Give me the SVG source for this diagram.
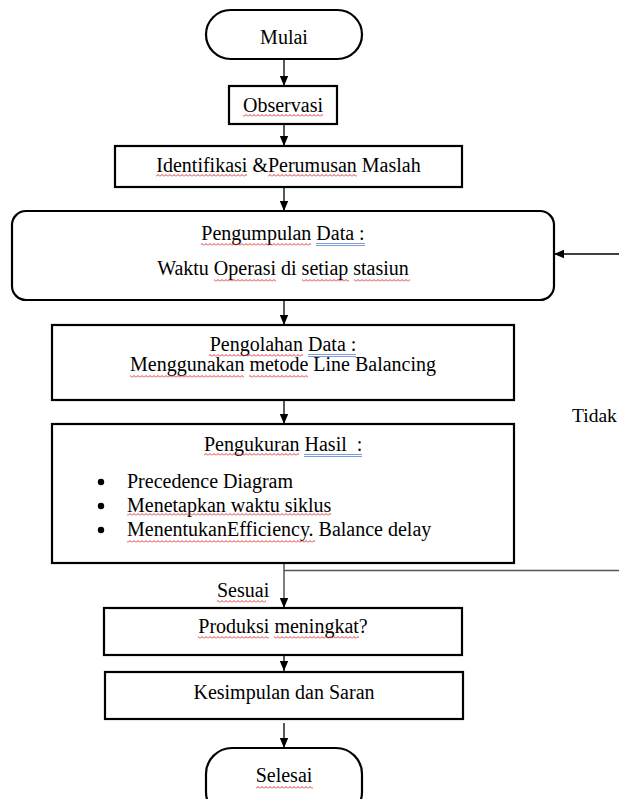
<svg xmlns="http://www.w3.org/2000/svg" width="619" height="799" viewBox="0 0 619 799">
<style>
.box{fill:#fff;stroke:#000;stroke-width:2.2}
.t{font-family:"Liberation Serif","Times New Roman",serif;font-size:20px;fill:#000}
.c{text-anchor:middle}
.ln{fill:none;stroke:#000;stroke-width:1.3}
.fb{fill:none;stroke:#555;stroke-width:1.5}
.bl{stroke:#6f8fd6;stroke-width:0.9}
</style>
<defs>
<marker id="ah" markerUnits="userSpaceOnUse" markerWidth="10" markerHeight="10" viewBox="0 0 10 10" refX="10" refY="5" orient="auto">
<path d="M0,0.8 L10,5 L0,9.2 Z" fill="#000"/>
</marker>
<pattern id="wave" patternUnits="userSpaceOnUse" width="4" height="3">
<polyline points="0,2.5 2,0.5 4,2.5" fill="none" stroke="#e02020" stroke-width="0.9"/>
</pattern>
</defs>
<rect width="619" height="799" fill="#fff"/>

<g id="connectors">
<line class="ln" x1="284" y1="59" x2="284" y2="86" marker-end="url(#ah)"/>
<line class="ln" x1="284" y1="124" x2="284" y2="146" marker-end="url(#ah)"/>
<line class="ln" x1="284" y1="187" x2="284" y2="211" marker-end="url(#ah)"/>
<line class="ln" x1="284" y1="300" x2="284" y2="325" marker-end="url(#ah)"/>
<line class="ln" x1="284" y1="400" x2="284" y2="424" marker-end="url(#ah)"/>
<line class="fb" x1="284" y1="563" x2="284" y2="608" marker-end="url(#ah)"/>
<line class="fb" x1="284" y1="570.5" x2="619" y2="570.5"/>
<line class="ln" x1="619" y1="254" x2="554" y2="254" marker-end="url(#ah)"/>
<line class="ln" x1="284" y1="655" x2="284" y2="671" marker-end="url(#ah)"/>
<line class="ln" x1="284" y1="723" x2="284" y2="748" marker-end="url(#ah)"/>
<text class="t" x="572" y="422" style="font-size:19.5px">Tidak</text>
<text class="t" x="217" y="597">Sesuai</text>
<rect x="217" y="600" width="49" height="3" fill="url(#wave)"/>
</g>

<g id="mulai">
<rect class="box" x="206" y="10" width="156" height="49" rx="24.5"/>
<text class="t c" x="284" y="44">Mulai</text>
</g>

<g id="observasi">
<rect class="box" x="229" y="86" width="108" height="38"/>
<text class="t c" x="283" y="112">Observasi</text>
<rect x="243" y="114" width="80" height="3" fill="url(#wave)"/>
</g>

<g id="identifikasi">
<rect class="box" x="115" y="146" width="347" height="41"/>
<text class="t c" x="288.5" y="172">Identifikasi &amp;Perumusan Maslah</text>
<rect x="156" y="174" width="91" height="3" fill="url(#wave)"/>
<rect x="268" y="174" width="89" height="3" fill="url(#wave)"/>
</g>

<g id="pengumpulan">
<rect class="box" x="12" y="211" width="542" height="89" rx="14"/>
<text class="t c" x="283" y="240">Pengumpulan Data :</text>
<rect x="201" y="243" width="110" height="3" fill="url(#wave)"/>
<line class="bl" x1="316" y1="243.5" x2="365" y2="243.5"/>
<line class="bl" x1="316" y1="245.5" x2="365" y2="245.5"/>
<text class="t c" x="283" y="275">Waktu Operasi di setiap stasiun</text>
<rect x="214" y="279" width="62" height="3" fill="url(#wave)"/>
<rect x="302" y="279" width="47" height="3" fill="url(#wave)"/>
<rect x="354" y="279" width="56" height="3" fill="url(#wave)"/>
</g>

<g id="pengolahan">
<rect class="box" x="52" y="325" width="462" height="75"/>
<text class="t c" x="283" y="351">Pengolahan Data :</text>
<rect x="209" y="354" width="94" height="3" fill="url(#wave)"/>
<line class="bl" x1="308" y1="354.5" x2="356" y2="354.5"/>
<line class="bl" x1="308" y1="356.5" x2="356" y2="356.5"/>
<text class="t c" x="283" y="371">Menggunakan metode Line Balancing</text>
<rect x="130" y="375" width="114" height="3" fill="url(#wave)"/>
<rect x="249" y="375" width="59" height="3" fill="url(#wave)"/>
</g>

<g id="pengukuran">
<rect class="box" x="52" y="424" width="462" height="139"/>
<text class="t" x="204" y="451" xml:space="preserve">Pengukuran Hasil  :</text>
<rect x="204" y="453" width="95" height="3" fill="url(#wave)"/>
<line class="bl" x1="304" y1="454.5" x2="362" y2="454.5"/>
<line class="bl" x1="304" y1="456.5" x2="362" y2="456.5"/>
<circle cx="101" cy="482" r="3.2"/>
<circle cx="101" cy="506" r="3.2"/>
<circle cx="101" cy="530" r="3.2"/>
<text class="t" x="127" y="488">Precedence Diagram</text>
<text class="t" x="127" y="512">Menetapkan waktu siklus</text>
<rect x="127" y="513" width="204" height="3" fill="url(#wave)"/>
<text class="t" x="127" y="536">MenentukanEfficiency. Balance delay</text>
<rect x="127" y="540" width="188" height="3" fill="url(#wave)"/>
</g>

<g id="produksi">
<rect class="box" x="104" y="608" width="358" height="47"/>
<text class="t c" x="283" y="633">Produksi meningkat?</text>
<rect x="198" y="636" width="71" height="3" fill="url(#wave)"/>
<rect x="274" y="636" width="85" height="3" fill="url(#wave)"/>
</g>

<g id="kesimpulan">
<rect class="box" x="105" y="672" width="358" height="47"/>
<text class="t c" x="284" y="699">Kesimpulan dan Saran</text>
</g>

<g id="selesai">
<rect class="box" x="206" y="748" width="156" height="70" rx="26"/>
<text class="t c" x="284" y="782">Selesai</text>
<rect x="256" y="786" width="57" height="3" fill="url(#wave)"/>
</g>
</svg>
